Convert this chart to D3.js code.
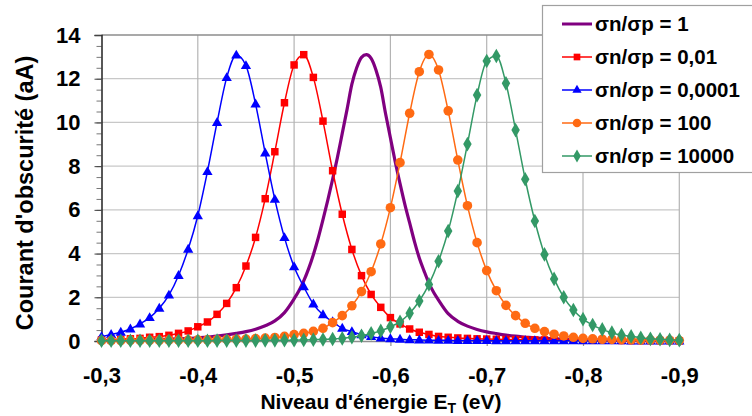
<!DOCTYPE html>
<html>
<head>
<meta charset="utf-8">
<script src="https://cdn.jsdelivr.net/npm/d3@7"></script>
<style>
  html, body { margin: 0; padding: 0; background: #fff; }
  svg { display: block; font-family: "Liberation Sans", Arial, sans-serif; }
</style>
</head>
<body>
<svg id="chart" width="752" height="416"></svg>
<script>
// ---------- DATA ----------
const energy = [-0.30,-0.31,-0.32,-0.33,-0.34,-0.35,-0.36,-0.37,-0.38,-0.39,
  -0.40,-0.41,-0.42,-0.43,-0.44,-0.45,-0.46,-0.47,-0.48,-0.49,
  -0.50,-0.51,-0.52,-0.53,-0.54,-0.55,-0.56,-0.57,-0.58,-0.59,
  -0.60,-0.61,-0.62,-0.63,-0.64,-0.65,-0.66,-0.67,-0.68,-0.69,
  -0.70,-0.71,-0.72,-0.73,-0.74,-0.75,-0.76,-0.77,-0.78,-0.79,
  -0.80,-0.81,-0.82,-0.83,-0.84,-0.85,-0.86,-0.87,-0.88,-0.89,-0.90];

// σn/σp = 0,01 (red squares)
const red = [0.05,0.06,0.08,0.10,0.12,0.17,0.20,0.26,0.35,0.46,
  0.65,0.87,1.22,1.72,2.44,3.43,4.74,6.51,8.66,10.9,
  12.63,13.1,12.06,10.06,7.79,5.80,4.19,2.99,2.13,1.54,
  1.07,0.78,0.55,0.40,0.30,0.21,0.17,0.14,0.12,0.10,
  0.09,0.08,0.07,0.06,0.06,0.05,0.05,0.04,0.04,0.04,
  0.03,0.03,0.03,0.03,0.02,0.02,0.02,0.02,0.02,0.02,0.01];

// σn/σp = 0,0001 (blue triangles)
const blue = [0.20,0.30,0.40,0.55,0.78,1.07,1.50,2.10,3.00,4.20,
  5.73,7.75,10.0,12.05,13.08,12.6,10.84,8.60,6.48,4.73,
  3.40,2.48,1.69,1.20,0.88,0.58,0.43,0.29,0.20,0.14,
  0.10,0.08,0.06,0.05,0.04,0.03,0.03,0.02,0.02,0.02,
  0.02,0.01,0.01,0.01,0.01,0.01,0.01,0.01,0.01,0.01,
  0.01,0.01,0.01,0.01,0.01,0.00,0.00,0.00,0.00,0.00,0.00];

// σn/σp = 100 (orange circles)
const orange = [0.02,0.02,0.02,0.03,0.03,0.03,0.03,0.04,0.04,0.04,
  0.05,0.05,0.06,0.07,0.08,0.09,0.11,0.13,0.16,0.21,
  0.29,0.35,0.44,0.58,0.84,1.16,1.61,2.26,3.17,4.44,
  6.10,8.16,10.42,12.32,13.11,12.4,10.53,8.28,6.19,4.50,
  3.22,2.30,1.63,1.16,0.81,0.58,0.43,0.31,0.23,0.17,
  0.12,0.10,0.08,0.07,0.06,0.05,0.04,0.04,0.03,0.03,0.02];

// σn/σp = 10000 (green diamonds)
const green = [0.01,0.01,0.01,0.01,0.01,0.01,0.01,0.01,0.01,0.01,
  0.01,0.01,0.02,0.02,0.02,0.02,0.02,0.03,0.03,0.04,
  0.04,0.05,0.06,0.07,0.09,0.12,0.17,0.24,0.35,0.46,
  0.65,0.88,1.27,1.83,2.59,3.65,5.03,6.86,9.01,11.25,
  12.81,13.04,11.79,9.65,7.40,5.49,3.96,2.84,2.00,1.42,
  1.00,0.73,0.53,0.38,0.27,0.21,0.15,0.10,0.08,0.05,0.04];

// σn/σp = 1 (purple smooth line, no markers)
const purpleE = [-0.30,-0.31,-0.32,-0.33,-0.34,-0.35,-0.36,-0.37,-0.38,-0.39,
  -0.40,-0.41,-0.42,-0.43,-0.44,-0.45,-0.46,-0.47,-0.48,-0.49,
  -0.50,-0.505,-0.51,-0.515,-0.52,-0.525,-0.53,-0.535,-0.54,-0.545,
  -0.55,-0.555,-0.56,-0.565,-0.57,-0.575,-0.58,-0.585,-0.59,-0.595,
  -0.60,-0.605,-0.61,-0.615,-0.62,-0.625,-0.63,-0.635,-0.64,-0.645,
  -0.65,-0.66,-0.67,-0.68,-0.69,-0.70,-0.71,-0.72,-0.73,-0.74,
  -0.75,-0.76,-0.77,-0.78,-0.79,-0.80,-0.81,-0.82,-0.83,-0.84,
  -0.85,-0.86,-0.87,-0.88,-0.89,-0.90];
const purple = [0.02,0.03,0.03,0.04,0.05,0.06,0.07,0.08,0.10,0.12,
  0.14,0.18,0.22,0.28,0.35,0.43,0.54,0.70,0.92,1.30,
  1.93,2.30,2.75,3.30,3.95,4.70,5.55,6.45,7.40,8.40,
  9.50,10.6,11.75,12.5,12.98,13.1,12.93,12.4,11.6,10.4,
  9.30,8.20,7.20,6.25,5.40,4.55,3.80,3.20,2.65,2.22,
  1.87,1.25,0.90,0.68,0.53,0.42,0.34,0.27,0.22,0.18,
  0.14,0.12,0.10,0.08,0.07,0.06,0.05,0.04,0.04,0.03,
  0.03,0.02,0.02,0.02,0.01,0.01];

const xTicks = [-0.3,-0.4,-0.5,-0.6,-0.7,-0.8,-0.9];
const yTicks = [0,2,4,6,8,10,12,14];
const legendLabels = ["σn/σp = 1","σn/σp = 0,01","σn/σp = 0,0001","σn/σp = 100","σn/σp = 10000"];
const xTitle = "Niveau d'énergie E";
const xTitleSub = "T";
const xTitleEnd = " (eV)";
const yTitle = "Courant d'obscurité (aA)";

// ---------- LAYOUT ----------
const W = 752, H = 416;
const plot = {left: 101.5, right: 679.3, top: 35, bottom: 341};

const svg = d3.select("#chart");
const x = d3.scaleLinear().domain([-0.3, -0.9]).range([plot.left, plot.right]);
const y = d3.scaleLinear().domain([0, 14]).range([plot.bottom, plot.top]);

const fr = d3.formatLocale({decimal: ",", thousands: " ", grouping: [3], currency: ["", ""], minus: "-"});
const fmtX = fr.format(".1f");

// gridlines
const grid = svg.append("g");
grid.selectAll("line.h").data(yTicks.filter(d => d > 0 && d < 14)).join("line")
  .attr("x1", plot.left).attr("x2", plot.right)
  .attr("y1", d => y(d)).attr("y2", d => y(d))
  .attr("stroke", "#c8c8c8").attr("stroke-width", 1.2);
grid.selectAll("line.v").data(xTicks.slice(1)).join("line")
  .attr("x1", d => x(d)).attr("x2", d => x(d))
  .attr("y1", plot.top).attr("y2", plot.bottom)
  .attr("stroke", "#b4b4b4").attr("stroke-width", 1.2);
// top border
grid.append("line").attr("x1", plot.left).attr("x2", plot.right)
  .attr("y1", plot.top).attr("y2", plot.top)
  .attr("stroke", "#8c8c8c").attr("stroke-width", 1.5);

// axes
const yAxis = d3.axisLeft(y).tickValues(yTicks).tickSize(7).tickPadding(14).tickFormat(d3.format("d"));
const yMinor = d3.axisLeft(y).tickValues(d3.range(0, 14.01, 0.5)).tickSize(5).tickFormat("");
const xAxis = d3.axisBottom(x).tickValues(xTicks).tickSize(5).tickPadding(21).tickFormat(fmtX);

const gxa = svg.append("g").attr("transform", `translate(0,${plot.bottom})`).call(xAxis);
gxa.select(".domain").attr("stroke", "#909090").attr("stroke-width", 1.5);
gxa.selectAll(".tick line").attr("stroke", "#909090").attr("stroke-width", 1.2);
gxa.selectAll("text").attr("font-size", 22).attr("font-weight", "bold").attr("fill", "#000")
  .attr("font-family", "Liberation Sans, Arial, sans-serif");

const gym = svg.append("g").attr("transform", `translate(${plot.left},0)`).call(yMinor);
gym.select(".domain").remove();
gym.selectAll(".tick line").attr("stroke", "#777");
const gya = svg.append("g").attr("transform", `translate(${plot.left},0)`).call(yAxis);
gya.select(".domain").attr("stroke", "#222").attr("stroke-width", 1.5);
gya.selectAll(".tick line").attr("stroke", "#444");
gya.selectAll("text").attr("font-size", 22).attr("font-weight", "bold").attr("fill", "#000")
  .attr("font-family", "Liberation Sans, Arial, sans-serif");

// titles
const xt = svg.append("text").attr("x", 381).attr("y", 409)
  .attr("text-anchor", "middle").attr("font-size", 21).attr("font-weight", "bold").attr("fill", "#000");
xt.append("tspan").text(xTitle);
xt.append("tspan").text(xTitleSub).attr("font-size", 14).attr("dy", 4);
xt.append("tspan").text(xTitleEnd).attr("dy", -4);

svg.append("text").attr("transform", `translate(33,193) rotate(-90)`)
  .attr("text-anchor", "middle").attr("font-size", 23.5).attr("font-weight", "bold").attr("fill", "#000")
  .text(yTitle);

// ---------- SERIES ----------
const series = [
  {name: legendLabels[0], color: "#800080", width: 3.2, marker: null, xs: purpleE, ys: purple},
  {name: legendLabels[1], color: "#ff0000", width: 1.5, marker: "square", xs: energy, ys: red},
  {name: legendLabels[2], color: "#0000ff", width: 1.5, marker: "triangle", xs: energy, ys: blue},
  {name: legendLabels[3], color: "#ff6a13", width: 1.5, marker: "circle", xs: energy, ys: orange},
  {name: legendLabels[4], color: "#339966", width: 1.5, marker: "diamond", xs: energy, ys: green}
];
const symbolSize = {square: 56, triangle: 46, circle: 72, diamond: 62};
const symbolType = {square: d3.symbolSquare, triangle: d3.symbolTriangle, circle: d3.symbolCircle, diamond: d3.symbolDiamond};

const line = d3.line().x(d => x(d[0])).y(d => y(d[1])).curve(d3.curveMonotoneX);

series.forEach(s => {
  const pts = s.xs.map((e, i) => [e, s.ys[i]]);
  const g = svg.append("g");
  g.append("path").datum(pts).attr("d", line)
    .attr("fill", "none").attr("stroke", s.color).attr("stroke-width", s.width)
    .attr("stroke-linejoin", "round");
  if (s.marker) {
    const sym = d3.symbol().type(symbolType[s.marker]).size(symbolSize[s.marker]);
    g.selectAll("path.m").data(pts).join("path")
      .attr("transform", d => `translate(${x(d[0])},${y(d[1]) + (s.marker === "triangle" ? 0.5 : 0)})`)
      .attr("d", sym).attr("fill", s.color);
  }
});

// ---------- LEGEND ----------
const lg = svg.append("g");
lg.append("rect").attr("x", 542.5).attr("y", 5.5).attr("width", 230).attr("height", 167)
  .attr("fill", "#fff").attr("stroke", "#a0a0a0").attr("stroke-width", 1.2);
series.forEach((s, i) => {
  const cy = 24 + i * 33;
  lg.append("line").attr("x1", 562).attr("x2", 592).attr("y1", cy).attr("y2", cy)
    .attr("stroke", s.color).attr("stroke-width", s.marker ? 1.5 : 3);
  if (s.marker) {
    lg.append("path").attr("transform", `translate(577,${cy})`)
      .attr("d", d3.symbol().type(symbolType[s.marker]).size(symbolSize[s.marker] * 0.8)()).attr("fill", s.color);
  }
  lg.append("text").attr("x", 595).attr("y", cy + 7).attr("font-size", 20.5).attr("font-weight", "bold")
    .attr("fill", "#000").text(s.name);
});
</script>
</body>
</html>
